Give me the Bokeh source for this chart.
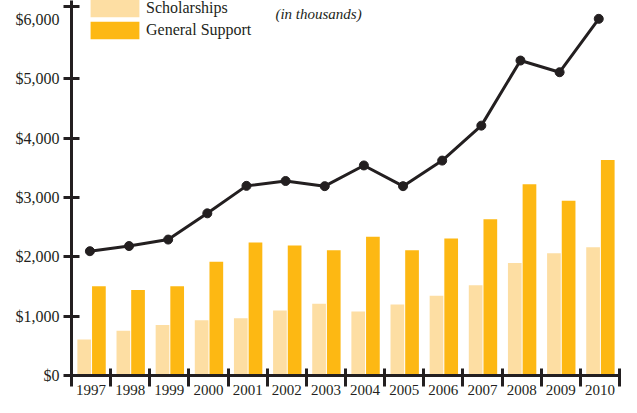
from bokeh.plotting import figure
from bokeh.models import (Range1d, FixedTicker, NumeralTickFormatter, Legend, LegendItem, Label)
from bokeh.embed import file_html
from bokeh.resources import INLINE

years = ["1997", "1998", "1999", "2000", "2001", "2002", "2003", "2004",
         "2005", "2006", "2007", "2008", "2009", "2010"]
scholarships = [605, 753, 851, 933, 966, 1097, 1211, 1080, 1195, 1342, 1522, 1898, 2062, 2160]
general_support = [1506, 1440, 1506, 1915, 2242, 2193, 2111, 2340, 2111, 2308, 2635, 3224, 2946, 3633]
total = [2095, 2182, 2291, 2733, 3196, 3278, 3191, 3540, 3191, 3622, 4211, 5308, 5111, 6011]
y_labels = [0, 1000, 2000, 3000, 4000, 5000, 6000]
y_tick_marks = [0, 1000, 2000, 3000, 4000, 5000]

INK = "#231f20"
LIGHT = "#fddea3"
GOLD = "#fdb813"
FONT = "Liberation Serif"

n = len(years)
centers = [i + 0.5 for i in range(n)]
x_sch = [c - 0.175 for c in centers]
x_gen = [c + 0.2 for c in centers]
x_line = [c - 0.03 for c in centers]

Y_END = 6320
p = figure(width=621, height=397, output_backend="svg", toolbar_location=None,
           x_range=Range1d(0, n), y_range=Range1d(0, Y_END),
           min_border_left=71, min_border_right=2, min_border_top=0, min_border_bottom=20)
p.outline_line_color = None
p.xgrid.visible = False
p.ygrid.visible = False
p.background_fill_color = "white"

r_sch = p.vbar(x=x_sch, top=scholarships, width=0.35, bottom=0, fill_color=LIGHT, line_color=None)
r_gen = p.vbar(x=x_gen, top=general_support, width=0.35, bottom=0, fill_color=GOLD, line_color=None)
p.line(x=x_line, y=total, line_color=INK, line_width=3)
p.scatter(x=x_line, y=total, size=9, fill_color=INK, line_color=INK)

# y axis: labels from major ticks (zero length), marks from minor ticks plus a top cap
ya = p.yaxis[0]
ya.ticker = FixedTicker(ticks=y_labels, minor_ticks=y_tick_marks + [Y_END - 100])
ya.formatter = NumeralTickFormatter(format="$0,0")
ya.axis_line_width = 3
ya.axis_line_color = INK
ya.major_tick_in = 0
ya.major_tick_out = 8
ya.major_tick_line_alpha = 0
ya.minor_tick_in = 8
ya.minor_tick_out = 8
ya.minor_tick_line_width = 3
ya.minor_tick_line_color = INK
ya.major_label_standoff = 4
ya.major_label_text_font = FONT
ya.major_label_text_font_size = "16px"
ya.major_label_text_color = INK

# x axis: labels at centres, tick marks at category boundaries
xa = p.xaxis[0]
xa.ticker = FixedTicker(ticks=centers, minor_ticks=list(range(n + 1)))
xa.major_label_overrides = {c: y for c, y in zip(centers, years)}
xa.axis_line_width = 3
xa.axis_line_color = INK
xa.major_tick_in = 0
xa.major_tick_out = 0
xa.minor_tick_in = 7
xa.minor_tick_out = 11
xa.minor_tick_line_width = 3
xa.minor_tick_line_color = INK
xa.major_label_standoff = -2
xa.major_label_text_font = FONT
xa.major_label_text_font_size = "15px"
xa.major_label_text_color = INK

p.add_layout(Label(x=5.21, y=6085, text="(in thousands)", text_align="left", text_baseline="middle",
                   text_font=FONT, text_font_size="15px", text_font_style="italic", text_color=INK))

legend = Legend(items=[LegendItem(label="Scholarships", renderers=[r_sch]),
                       LegendItem(label="General Support", renderers=[r_gen])],
                location=(13, 334), orientation="vertical",
                glyph_width=61, glyph_height=22, label_height=22, spacing=0,
                padding=0, margin=0, label_standoff=1,
                label_text_font=FONT, label_text_font_size="16px", label_text_color=INK,
                border_line_alpha=0, background_fill_alpha=0)
p.add_layout(legend)

open("out.html", "w").write(file_html(p, INLINE))
